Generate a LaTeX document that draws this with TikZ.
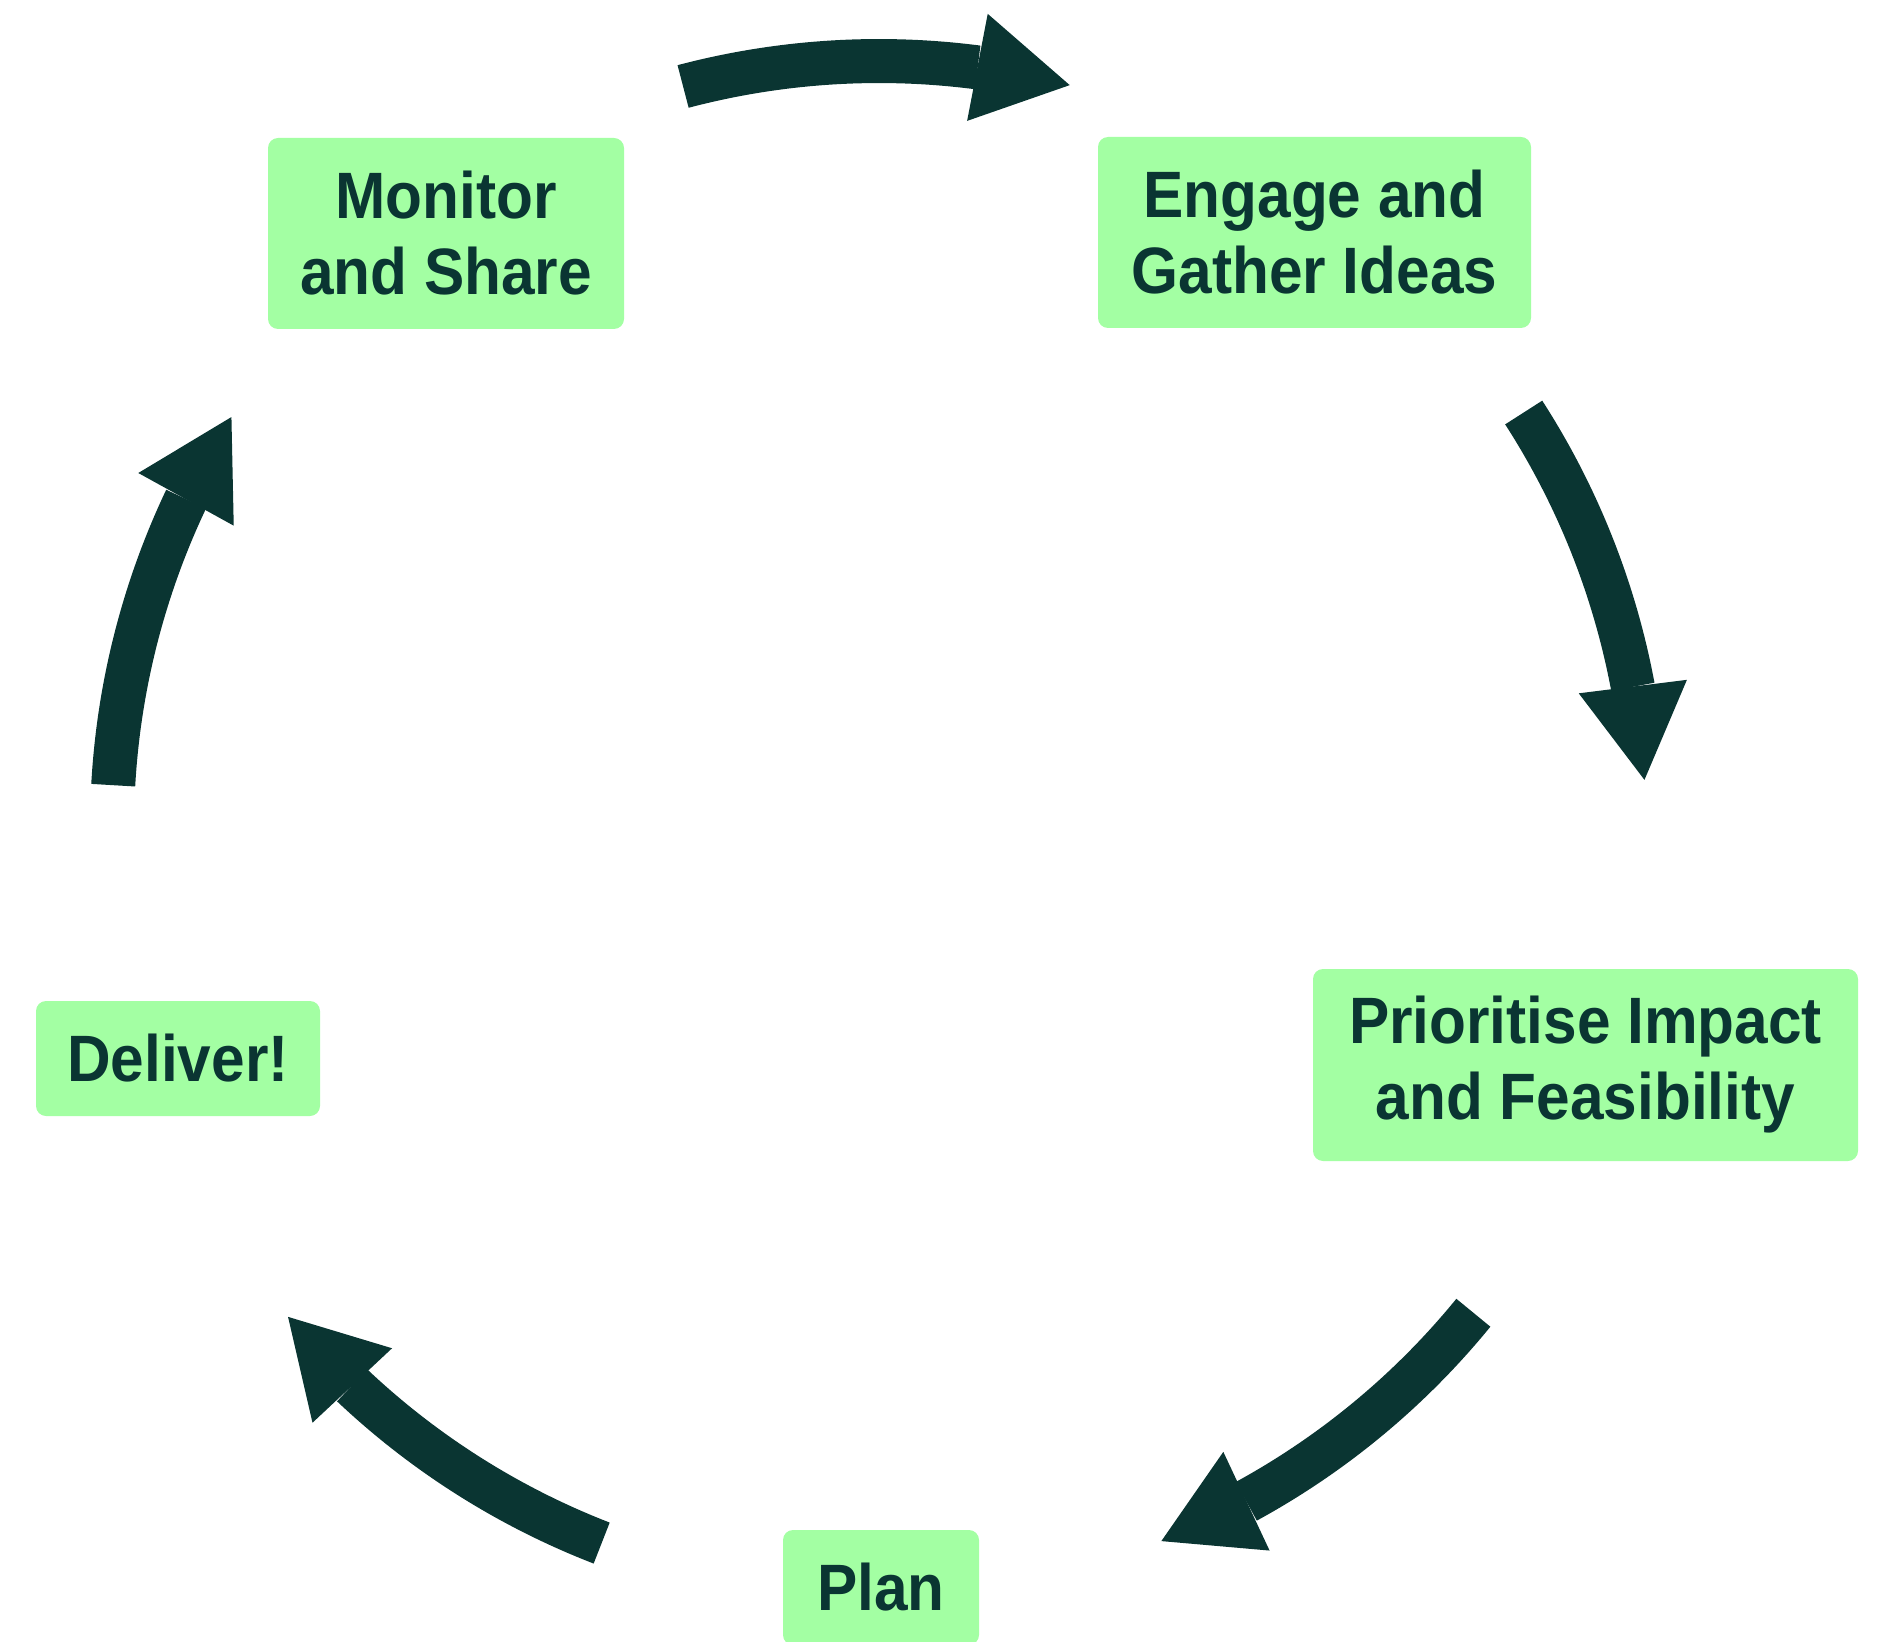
\documentclass[tikz,border=0pt]{standalone}
\usepackage{xcolor}
\usepackage{fontspec}
\setmainfont{Liberation Sans}[FakeStretch=0.92]
\usepackage{tikz}
\usetikzlibrary{arrows.meta,bending}

\definecolor{stagegreen}{HTML}{A3FFA3}
\definecolor{darkteal}{HTML}{0A3532}

\tikzset{
  stagebox/.style={fill=stagegreen, rounded corners=5pt, text=darkteal, align=center,
    inner sep=0pt, font=\bfseries\fontsize{32.8}{38}\selectfont},
  cyclearrow/.style={draw=darkteal, line width=22pt, line cap=butt,
    -{Triangle[length=47pt,width=54.5pt,line width=0pt,flex]}}
}

\begin{document}
\begin{tikzpicture}[x=0.5pt,y=0.5pt,yscale=-1,xscale=1]
        \useasboundingbox (0,0) rectangle (1880,1642);

        % the five stages
        \node (monitor) [stagebox, minimum width=178pt, minimum height=95.5pt] at (446,233.5) {Monitor\\and Share};
        \node (engage) [stagebox, minimum width=216.5pt, minimum height=95.5pt] at (1314.5,232.5) {Engage and\\Gather Ideas};
        \node (prioritise) [stagebox, minimum width=272.5pt, minimum height=96pt] at (1585.5,1065) {Prioritise Impact\\and Feasibility};
        \node (plan) [stagebox, minimum width=98pt, minimum height=57.5pt] at (881,1587.5) {Plan};
        \node (deliver) [stagebox, minimum width=142pt, minimum height=57.5pt] at (178,1058.5) {Deliver!};

        % circle of arrows
        \coordinate (c) at (879,828);
        \path (c) ++(-104.8:767) coordinate (a1);
        \path (c) ++(-32.8:767) coordinate (a2);
        \path (c) ++(39.2:767) coordinate (a3);
        \path (c) ++(111.2:767) coordinate (a4);
        \path (c) ++(183.2:767) coordinate (a5);

        \draw [cyclearrow] (a1) arc [start angle=-104.8, end angle=-75.6, radius=767];
        \draw [cyclearrow] (a2) arc [start angle=-32.8, end angle=-3.6, radius=767];
        \draw [cyclearrow] (a3) arc [start angle=39.2, end angle=68.4, radius=767];
        \draw [cyclearrow] (a4) arc [start angle=111.2, end angle=140.4, radius=767];
        \draw [cyclearrow] (a5) arc [start angle=183.2, end angle=212.4, radius=767];
    \end{tikzpicture}
\end{document}
